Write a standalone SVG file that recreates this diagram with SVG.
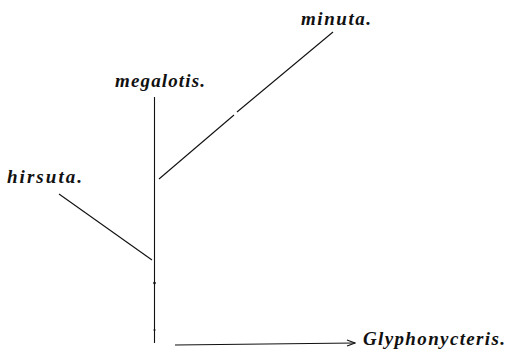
<svg xmlns="http://www.w3.org/2000/svg" width="509" height="353" viewBox="0 0 509 353">
<style>
text{font-family:"Liberation Serif","DejaVu Serif",serif;font-style:italic;font-weight:bold;font-size:19px;fill:#111}
.ln{stroke:#111;stroke-width:1.1;fill:none}
</style>
<defs>
<marker id="ah" markerWidth="10" markerHeight="8" refX="9" refY="4" orient="auto" markerUnits="userSpaceOnUse">
<path d="M1,1 L9,4 L1,7" fill="none" stroke="#111" stroke-width="1.1"/>
</marker>
</defs>
<rect width="509" height="353" fill="#fff"/>
<g id="connectors">
<line class="ln" x1="154.5" y1="97" x2="154.5" y2="343"/>
<circle cx="154.5" cy="283" r="1.3" fill="#111"/>
<circle cx="154.5" cy="330" r="1" fill="#111"/>
<line class="ln" x1="333" y1="32" x2="237" y2="112"/>
<line class="ln" x1="234" y1="115" x2="159" y2="179"/>
<line class="ln" x1="59" y1="194" x2="152" y2="260"/>
<line class="ln" x1="175" y1="345" x2="355" y2="343" marker-end="url(#ah)"/>
</g>
<g id="minuta"><text x="301" y="25" textLength="70" lengthAdjust="spacing">minuta.</text></g>
<g id="megalotis"><text x="115" y="87" textLength="90" lengthAdjust="spacing">megalotis.</text></g>
<g id="hirsuta"><text x="7" y="183" textLength="75" lengthAdjust="spacing">hirsuta.</text></g>
<g id="glyphonycteris"><text x="363" y="345" textLength="142" lengthAdjust="spacing">Glyphonycteris.</text></g>
</svg>
